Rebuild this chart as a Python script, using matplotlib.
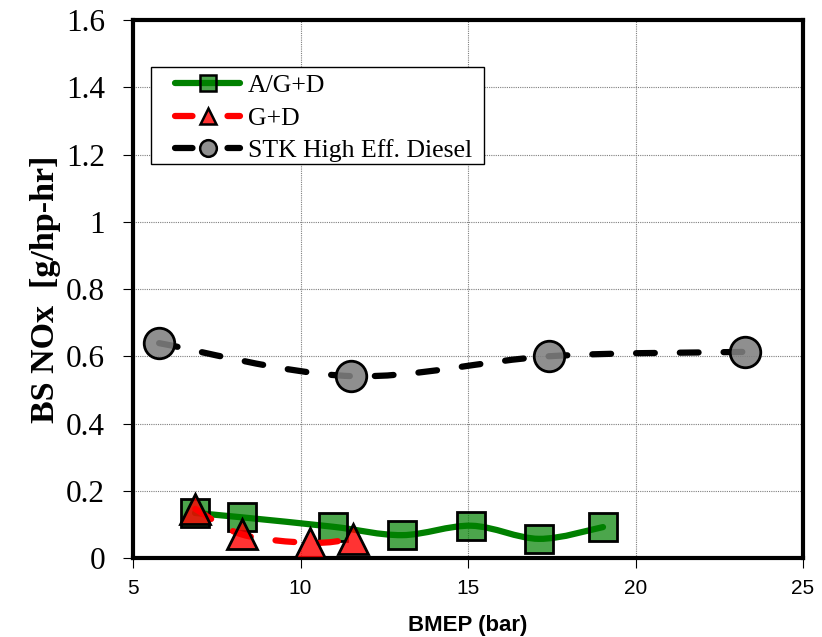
import numpy as np
import matplotlib
matplotlib.use("Agg")
import matplotlib.pyplot as plt
from matplotlib.path import Path
from matplotlib.patches import PathPatch, Rectangle
from matplotlib.lines import Line2D
from matplotlib.ticker import MultipleLocator, FuncFormatter

# BS NOx vs BMEP for the three engine configurations
agd_bmep = [6.85, 8.25, 10.97, 13.03, 15.1, 17.12, 19.03]
agd_nox = [0.134, 0.121, 0.093, 0.068, 0.096, 0.057, 0.092]

gd_bmep = [6.86, 8.25, 10.28, 11.57]
gd_nox = [0.146, 0.070, 0.045, 0.056]

stk_bmep = [5.78, 11.5, 17.42, 23.27]
stk_nox = [0.639, 0.541, 0.600, 0.613]

labels = ["A/G+D", "G+D", "STK High Eff. Diesel"]


def smooth_path(xs, ys):
    # cubic bezier through the points (catmull-rom style control points)
    pts = np.column_stack([xs, ys]).astype(float)
    ext = np.vstack([pts[0], pts, pts[-1]])
    verts = [pts[0]]
    codes = [Path.MOVETO]
    for i in range(1, len(pts)):
        p0, p1, p2, p3 = ext[i - 1], ext[i], ext[i + 1], ext[i + 2]
        verts += [p1 + (p2 - p0) / 6.0, p2 - (p3 - p1) / 6.0, p2]
        codes += [Path.CURVE4] * 3
    return Path(verts, codes)


def draw_series(ax, xs, ys, color, dashes, marker, ms, face, z):
    patch = PathPatch(smooth_path(xs, ys), fill=False, edgecolor=color,
                      lw=4.5, capstyle="round", joinstyle="round", zorder=z)
    if dashes:
        patch.set_linestyle((0, dashes))
    ax.add_patch(patch)
    ax.plot(xs, ys, ls="none", marker=marker, ms=ms, mfc=face,
            mec="black", mew=2, zorder=z + 0.5)


fig = plt.figure(figsize=(8.22, 6.37), dpi=100)
ax = fig.add_axes([0.1618, 0.124, 0.8151, 0.8446])

green_face = (0.0, 0.5, 0.0, 0.7)
red_face = (1.0, 0.0, 0.0, 0.8)
grey_face = (0.5, 0.5, 0.5, 0.88)

draw_series(ax, agd_bmep, agd_nox, "green", None, "s", 20, green_face, 3)
draw_series(ax, gd_bmep, gd_nox, "red", (3, 4), "^", 22, red_face, 4)
draw_series(ax, stk_bmep, stk_nox, "black", (3, 4), "o", 22, grey_face, 5)

ax.set_xlim(5, 25)
ax.set_ylim(0, 1.6)
ax.xaxis.set_major_locator(MultipleLocator(5))
ax.yaxis.set_major_locator(MultipleLocator(0.2))
ax.yaxis.set_major_formatter(FuncFormatter(lambda v, p: "%g" % round(v, 1)))

ax.grid(True, color="#7f7f7f", linestyle=(0, (1, 1)), linewidth=0.8)
ax.set_axisbelow(True)
for s in ax.spines.values():
    s.set_linewidth(3)

ax.tick_params(direction="out", length=7, width=0.8, color="black")
ax.tick_params(axis="y", labelsize=22.5, labelfontfamily="Liberation Serif", pad=13)
ax.tick_params(axis="x", labelsize=15, labelfontfamily="Liberation Sans", pad=8)

ax.set_xlabel("BMEP (bar)", fontfamily="Liberation Sans", fontweight="bold",
              fontsize=16, labelpad=12.5)
ax.set_ylabel("BS NOx  [g/hp-hr]", fontfamily="Liberation Serif",
              fontweight="bold", fontsize=24.5, labelpad=4)

# legend box drawn separately so its padding can differ per side
ax.add_patch(Rectangle((0.0269, 0.7323), 0.497, 0.1803, transform=ax.transAxes,
                       facecolor="white", edgecolor="black", lw=1.0, zorder=9))

handles = [
    Line2D([], [], color="green", lw=4.5, solid_capstyle="round", marker="s",
           ms=12, mfc=green_face, mec="black", mew=1.8),
    Line2D([], [], color="red", lw=4.5, dashes=(2.8, 5.6), dash_capstyle="round",
           marker="^", ms=12, mfc=red_face, mec="black", mew=1.8),
    Line2D([], [], color="black", lw=4.5, dashes=(2.8, 5.6), dash_capstyle="round",
           marker="o", ms=12, mfc=grey_face, mec="black", mew=1.8),
]
leg = ax.legend(handles, labels, loc="upper left", bbox_to_anchor=(0.0627, 0.8995),
                borderaxespad=0, borderpad=0, frameon=False,
                prop={"family": "Liberation Serif", "size": 18.5},
                handlelength=2.53, handletextpad=0.31, labelspacing=0.37)
leg.set_zorder(10)

fig.savefig("out.png", dpi=100)
